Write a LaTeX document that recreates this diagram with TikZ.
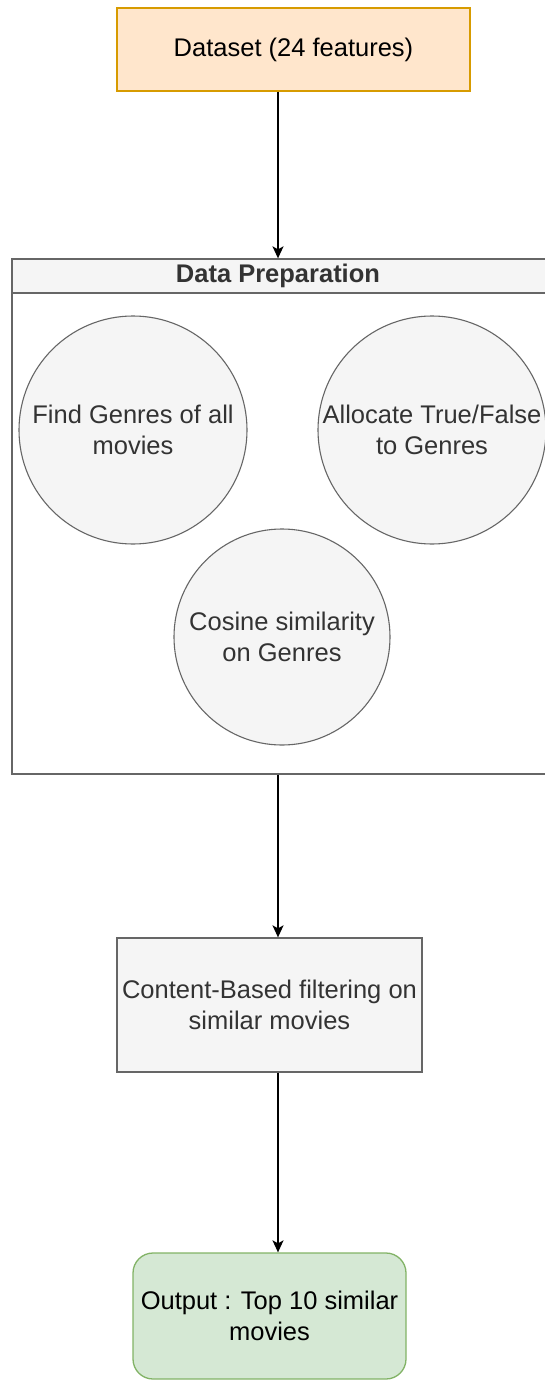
\documentclass[tikz,border=0pt]{standalone}
\usepackage{fontspec}
\setmainfont{Liberation Sans}
\usetikzlibrary{arrows.meta}
\definecolor{dsfill}{HTML}{FFE6CC}
\definecolor{dsdraw}{HTML}{D79B00}
\definecolor{gfill}{HTML}{F5F5F5}
\definecolor{gdraw}{HTML}{666666}
\definecolor{gtext}{HTML}{333333}
\definecolor{ofill}{HTML}{D5E8D4}
\definecolor{odraw}{HTML}{82B366}
\tikzset{
  txt/.style={font=\fontsize{25.5}{31}\selectfont, align=center},
  dsbox/.style={draw=dsdraw, fill=dsfill, line width=1.3pt, rectangle, inner sep=0pt, txt, text=black},
  graybox/.style={draw=gdraw, fill=gfill, line width=1.3pt, rectangle, inner sep=0pt, txt, text=gtext},
  graycirc/.style={draw=gdraw, fill=gfill, line width=1.1pt, circle, inner sep=0pt},
  circtext/.style={txt, text=gtext, inner sep=0pt},
  outbox/.style={draw=odraw, fill=ofill, line width=1.3pt, rectangle, rounded corners=20pt, inner sep=0pt, txt, text=black},
  arr/.style={line width=1.6pt, -{Stealth[length=12pt,width=11pt,inset=3pt]}},
}
\begin{document}
\begin{tikzpicture}[x=1pt,y=-1pt]
\useasboundingbox (0,0) rectangle (545,1380);
% Dataset
\node[dsbox, minimum width=353pt, minimum height=83pt] (ds) at (293.5,49.5) {Dataset (24 features)};
% container
\node[draw=gdraw, fill=white, line width=1.3pt, rectangle, inner sep=0pt, minimum width=534pt, minimum height=515pt] (cont) at (279,516.5) {};
\node[draw=gdraw, fill=gfill, line width=1.3pt, rectangle, inner sep=0pt, minimum width=534pt, minimum height=34pt, font=\bfseries\fontsize{25.5}{31}\selectfont, text=gtext] (hdr) at (279,276) {\hspace*{-2pt}Data Preparation};
% circles
\node[graycirc, minimum size=228pt] (c1) at (133,430) {};
\node[circtext] at (c1) {Find Genres of all\\movies};
\node[graycirc, minimum size=228pt] (c2) at (432,430) {};
\node[circtext] at (c2) {Allocate True/False\\to Genres};
\node[graycirc, minimum size=216pt] (c3) at (282,637) {};
\node[circtext] at (c3) {Cosine similarity\\on Genres};
% content based
\node[graybox, minimum width=305pt, minimum height=134pt] (cb) at (269.5,1005) {Content-Based filtering on\\similar movies};
% output
\node[outbox, minimum width=273pt, minimum height=126pt] (out) at (269.5,1316) {Output : Top 10 similar\\movies};
% arrows
\coordinate (ax) at (278,0);
\draw[arr] (ds.south -| ax) -- (hdr.north -| ax);
\draw[arr] (cont.south -| ax) -- (cb.north -| ax);
\draw[arr] (cb.south -| ax) -- (out.north -| ax);
\end{tikzpicture}
\end{document}
